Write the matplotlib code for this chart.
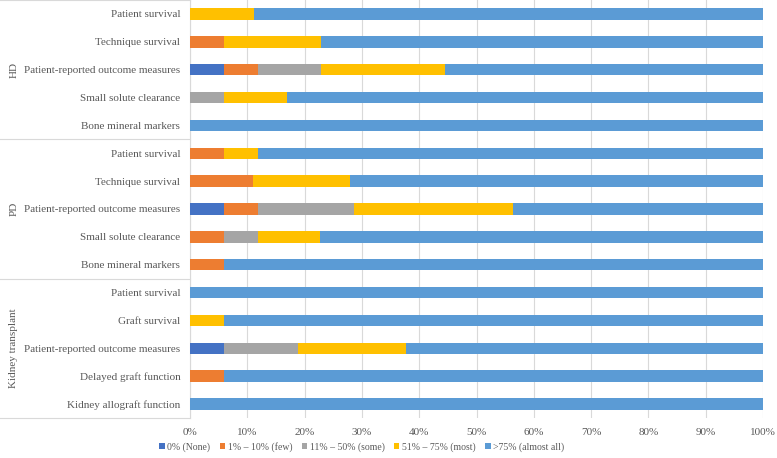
import numpy as np
import matplotlib
matplotlib.use("Agg")
import matplotlib.pyplot as plt

# rows top to bottom, share of respondents (%) in each answer class
outcomes = ["Patient survival", "Technique survival", "Patient-reported outcome measures",
            "Small solute clearance", "Bone mineral markers",
            "Patient survival", "Technique survival", "Patient-reported outcome measures",
            "Small solute clearance", "Bone mineral markers",
            "Patient survival", "Graft survival", "Patient-reported outcome measures",
            "Delayed graft function", "Kidney allograft function"]
groups = ["HD", "PD", "Kidney transplant"]

none_ = [0, 0, 5.9, 0, 0,   0, 0, 5.9, 0, 0,    0, 0, 5.9, 0, 0]
few = [0, 5.9, 6.0, 0, 0,   5.9, 11.0, 5.9, 5.9, 5.9,   0, 0, 0, 5.9, 0]
some = [0, 0, 10.9, 5.9, 0,   0, 0, 16.8, 5.9, 0,   0, 0, 12.9, 0, 0]
most = [11.1, 16.9, 21.7, 11.1, 0,   5.9, 17.0, 27.7, 10.9, 0,   0, 5.9, 18.9, 0, 0]
almost_all = [88.9, 77.2, 55.5, 83.0, 100,   88.2, 72.0, 43.7, 77.3, 94.1,
              100, 94.1, 62.3, 94.1, 100]

series = [none_, few, some, most, almost_all]
labels = ["0% (None)", "1% \u2013 10% (few)", "11% \u2013 50% (some)",
          "51% \u2013 75% (most)", ">75% (almost all)"]
colors = ["#4472C4", "#ED7D31", "#A5A5A5", "#FFC000", "#5B9BD5"]

plt.rcParams['font.family'] = ['Liberation Serif', 'DejaVu Serif']
txt = "#595959"
line_c = "#D9D9D9"
fs = 8.0

fig = plt.figure(figsize=(7.77, 4.58), dpi=100)
ax = fig.add_axes([190 / 777, 40 / 458, 573 / 777, 418 / 458])

y = np.arange(len(outcomes))
left = np.zeros(len(outcomes))
for vals, lab, c in zip(series, labels, colors):
    ax.barh(y, vals, left=left, height=0.41, color=c, label=lab, zorder=3)
    left += np.array(vals)

ax.set_xlim(0, 100)
ax.set_ylim(len(outcomes) - 0.5, -0.5)
ax.set_xticks(np.arange(0, 101, 10))
ax.set_xticklabels([f"{v}%" for v in range(0, 101, 10)], color=txt, fontsize=fs)
ax.set_yticks(y)
ax.set_yticklabels(outcomes, color=txt, fontsize=fs)
ax.tick_params(length=0, pad=7)
ax.tick_params(axis='y', pad=7)
ax.grid(axis='x', color=line_c, linewidth=0.8, zorder=0)
for s in ["top", "right", "bottom"]:
    ax.spines[s].set_visible(False)
ax.spines["left"].set_color(line_c)
ax.spines["left"].set_linewidth(0.8)

# group label table on the left
tr = ax.get_yaxis_transform()
x0 = -190 / 573
for yy in [-0.5, 4.5, 9.5, 14.5]:
    ax.plot([x0, 0], [yy, yy], transform=tr, color=line_c, lw=0.8, clip_on=False)
for i, g in enumerate(groups):
    ax.text(-176 / 573, 2 + 5 * i, g, transform=tr, rotation=90, ha="center",
            va="center", color=txt, fontsize=fs)

ax.legend(loc="upper center", bbox_to_anchor=(0.30, -0.036), ncol=5, frameon=False,
          fontsize=7.0, labelcolor=txt, handlelength=0.55, handleheight=0.55,
          handletextpad=0.3, columnspacing=0.95)

fig.savefig("out.png", dpi=100)
